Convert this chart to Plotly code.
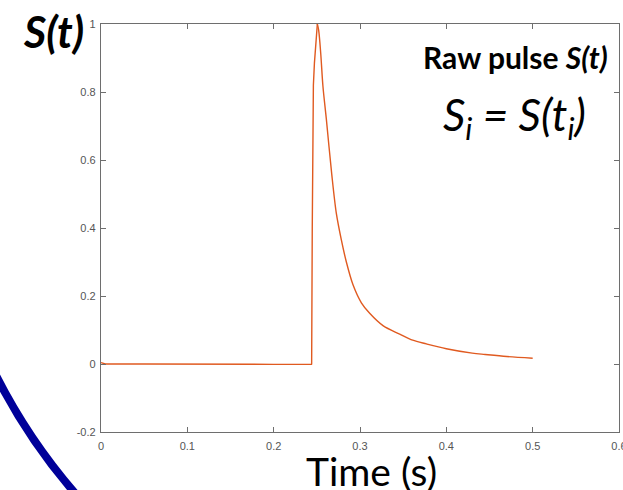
import plotly.graph_objects as go

# Raw pulse S(t): flat baseline and sharp rise near 0.245 s ...
rise_time = [0.0, 0.005, 0.05, 0.10, 0.15, 0.20, 0.2438,
             0.2440, 0.2447, 0.2452, 0.2456, 0.2460, 0.2472, 0.2488, 0.2506]
rise_signal = [0.004, 0.0, 0.0, -0.001, 0.0, -0.001, -0.001,
               0.0, 0.40, 0.60, 0.72, 0.82, 0.885, 0.95, 1.0]
# ... followed by a slow decay out to 0.5 s
decay_time = [0.2506, 0.2521, 0.2545, 0.2571, 0.2611, 0.2672, 0.2726, 0.2784,
              0.2842, 0.2919, 0.3016, 0.3112, 0.3270, 0.3460, 0.3610, 0.3770,
              0.4000, 0.4300, 0.4450, 0.4700, 0.5000]
decay_signal = [1.0, 0.982, 0.914, 0.816, 0.718, 0.56, 0.443, 0.365,
                0.300, 0.233, 0.180, 0.149, 0.112, 0.088, 0.070, 0.059,
                0.045, 0.032, 0.028, 0.022, 0.017]

x_ticks = [0, 0.1, 0.2, 0.3, 0.4, 0.5, 0.6]
x_tick_text = ["0", "0.1", "0.2", "0.3", "0.4", "0.5", "0.6"]
y_ticks = [-0.2, 0, 0.2, 0.4, 0.6, 0.8, 1.0]
y_tick_text = ["-0.2", "0", "0.2", "0.4", "0.6", "0.8", "1"]

W, H = 623, 490
ML, MR, MT, MB = 101, 4, 24, 58
PULSE_COLOR = "#E05A20"

fig = go.Figure()
fig.add_trace(go.Scatter(
    x=rise_time, y=rise_signal, mode="lines",
    line=dict(color=PULSE_COLOR, width=1.4),
    hoverinfo="skip", showlegend=False,
))
fig.add_trace(go.Scatter(
    x=decay_time, y=decay_signal, mode="lines",
    line=dict(color=PULSE_COLOR, width=1.4, shape="spline", smoothing=0.9),
    hoverinfo="skip", showlegend=False,
))

axis_common = dict(
    showgrid=False, zeroline=False, showline=True, mirror="ticks",
    linecolor="#6e6e6e", linewidth=1.3, automargin=False,
    ticks="inside", ticklen=5, tickwidth=1, tickcolor="#6e6e6e",
    tickfont=dict(family="Liberation Sans, Arial", size=11, color="#555555"),
)
fig.update_xaxes(range=[0, 0.6], tickvals=x_ticks, ticktext=x_tick_text,
                 ticklabeloverflow="allow", ticklabelstandoff=4, **axis_common)
fig.update_yaxes(range=[-0.2, 1.0], tickvals=y_ticks, ticktext=y_tick_text,
                 ticklabelstandoff=2, **axis_common)

# decorative navy circle around the plot, given in pixels and converted to paper units
pw, ph = W - ML - MR, H - MT - MB
cx, cy, r = 522, 108, 590


def px_x(v):
    return (v - ML) / pw


def px_y(v):
    return (H - MB - v) / ph


fig.add_shape(type="circle", xref="paper", yref="paper",
              x0=px_x(cx - r), x1=px_x(cx + r), y0=px_y(cy + r), y1=px_y(cy - r),
              line=dict(color="#000099", width=8), layer="above")

label_font = "Lato, Carlito, Calibri, sans-serif"
fig.add_annotation(x=px_x(86), y=px_y(31), xref="paper", yref="paper",
                   xanchor="right", yanchor="middle", showarrow=False,
                   text="<b><i>S(t)</i></b>",
                   font=dict(family=label_font, size=43, color="black"))
fig.add_annotation(x=px_x(610), y=px_y(57), xref="paper", yref="paper",
                   xanchor="right", yanchor="middle", showarrow=False,
                   text="<b>Raw pulse <i>S(t)</i></b>",
                   font=dict(family=label_font, size=30, color="black"))
fig.add_annotation(x=px_x(588), y=px_y(118), xref="paper", yref="paper",
                   xanchor="right", yanchor="middle", showarrow=False,
                   text="<i>S<sub>i</sub> = S(t<sub>i</sub>)</i>",
                   font=dict(family=label_font, size=44, color="black"))
fig.add_annotation(x=px_x(371), y=px_y(471), xref="paper", yref="paper",
                   xanchor="center", yanchor="middle", showarrow=False,
                   text="Time (s)",
                   font=dict(family=label_font, size=39, color="black"))

fig.update_layout(
    width=W, height=H,
    margin=dict(l=ML, r=MR, t=MT, b=MB),
    paper_bgcolor="white", plot_bgcolor="white",
)

fig.write_html("out.html")
